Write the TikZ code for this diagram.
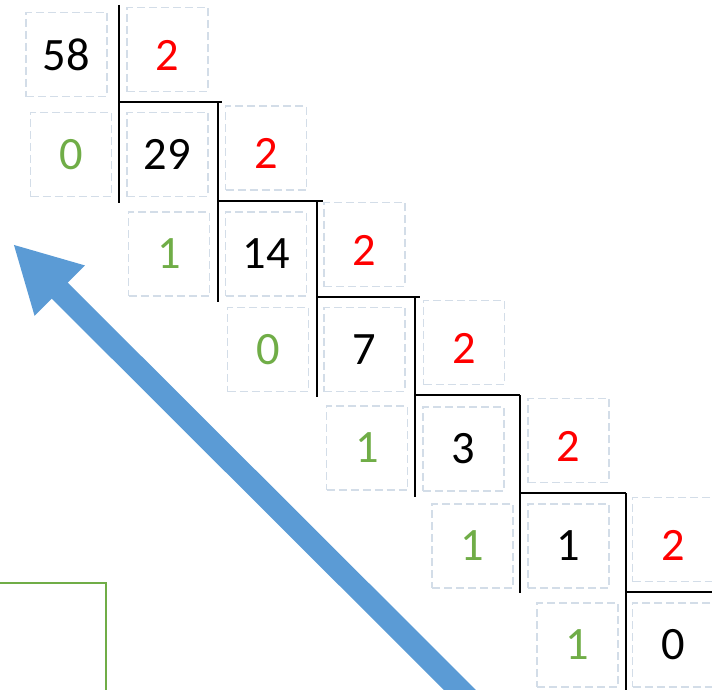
\documentclass[tikz,border=0pt]{standalone}
\usepackage{fontspec}
\setmainfont{Carlito}
\usetikzlibrary{arrows.meta}
\definecolor{cellline}{HTML}{D3DDE8}
\definecolor{bitgreen}{HTML}{70AD47}
\definecolor{arrowblue}{HTML}{5B9BD5}
\tikzset{
  cell/.style={rectangle, draw=cellline, dash pattern=on 0.2cm off 0.1cm, line width=0.045cm, minimum width=2.02cm, minimum height=2.1cm, inner sep=0pt, font=\fontsize{33}{40}\selectfont},
  quotient/.style={cell, text=black},
  divisor/.style={cell, text=red, text height=1.04cm},
  remainder/.style={cell, text=bitgreen},
  bar/.style={draw=black, line width=0.06cm}
}

\begin{document}
\begin{tikzpicture}[
    x=0.025cm, y=-0.025cm,
    readup/.style={draw=arrowblue, line width=0.565cm, -{Triangle[width=1.65cm, length=1.65cm]}}
  ]
  \useasboundingbox (0,0) rectangle (712,690);
  \clip (0,0) rectangle (712,690);

  % quotients
  \node[quotient] (q0) at (66.5, 54.5) {58};
  \node[quotient] (q1) at (167.5, 154.5) {29};
  \node[quotient] (q2) at (266, 254) {14};
  \node[quotient] (q3) at (364.5, 349.5) {7};
  \node[quotient] (q4) at (463.5, 449) {3};
  \node[quotient] (q5) at (568.5, 546) {1};
  \node[quotient] (q6) at (673, 645) {0};

  % divisors
  \node[divisor] (d0) at (167.5, 49.5) {2};
  \node[divisor] (d1) at (266, 148) {2};
  \node[divisor] (d2) at (364.5, 244.5) {2};
  \node[divisor] (d3) at (464, 342.5) {2};
  \node[divisor] (d4) at (568.5, 440.5) {2};
  \node[divisor] (d5) at (673, 539.5) {2};

  % remainders
  \node[remainder] (r0) at (71, 154.5) {0};
  \node[remainder] (r1) at (169, 254) {1};
  \node[remainder] (r2) at (268, 349.5) {0};
  \node[remainder] (r3) at (367, 448) {1};
  \node[remainder] (r4) at (472.5, 546) {1};
  \node[remainder] (r5) at (577.5, 645) {1};

  % division bars
  \draw[bar] (119, 5) -- (119, 203) (119, 102) -- (222, 102);
  \draw[bar] (218, 102) -- (218, 302) (218, 201) -- (323, 201);
  \draw[bar] (317, 201) -- (317, 397) (317, 297) -- (420, 297);
  \draw[bar] (415, 297) -- (415, 497) (415, 395) -- (520, 395);
  \draw[bar] (520, 395) -- (520, 593) (520, 493) -- (626, 493);
  \draw[bar] (626, 493) -- (626, 700) (626, 592) -- (720, 592);

  % frame at the lower left
  \draw[draw=bitgreen, line width=0.07cm] (-20, 583) rectangle (106, 720);

  % read the remainders upwards
  \coordinate (tail) at (468, 698);
  \coordinate (tip) at (13, 244);
  \draw[readup] (tail) -- (tip);
\end{tikzpicture}
\end{document}
